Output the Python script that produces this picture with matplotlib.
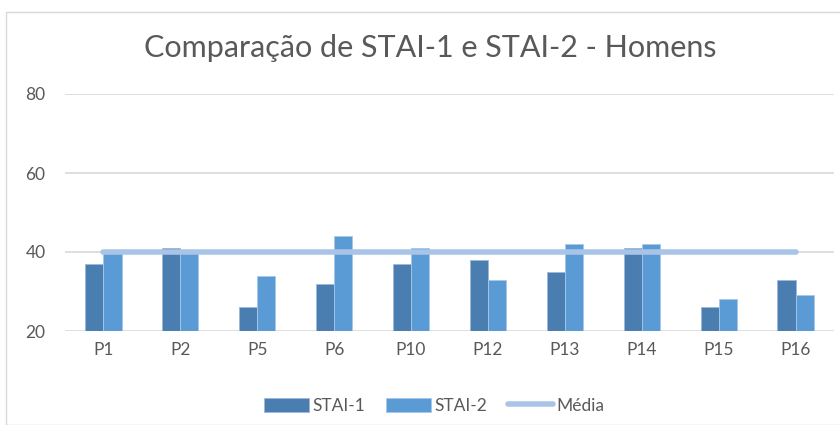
import numpy as np
import matplotlib
matplotlib.use("Agg")
import matplotlib.pyplot as plt
from matplotlib.patches import Rectangle

plt.rcParams['font.family'] = ['Lato', 'DejaVu Sans']

# Dados
participantes = ['P1', 'P2', 'P5', 'P6', 'P10', 'P12', 'P13', 'P14', 'P15', 'P16']
stai1 = [37, 41, 26, 32, 37, 38, 35, 41, 26, 33]
stai2 = [40, 40, 34, 44, 41, 33, 42, 42, 28, 29]
media = [40] * len(participantes)

cor1 = '#4A7EB0'
cor2 = '#5B9BD5'
cor_media = '#A9C4E6'
cinza = '#595959'

fig = plt.figure(figsize=(8.4, 4.25), dpi=100)
ax = fig.add_axes([65 / 840, 1 - 331 / 425, (834 - 65) / 840, (331 - 94) / 425])

# Moldura do gráfico
fig.patches.append(Rectangle((6 / 840, 0), 1, 1 - 12 / 425, transform=fig.transFigure,
                             fill=False, edgecolor='#D9D9D9', lw=1))

x = np.arange(len(participantes))
w = 0.235
b1 = ax.bar(x - w / 2, np.array(stai1) - 20, w, bottom=20, color=cor1, edgecolor='#9DB9D8',
            lw=0.6, label='STAI-1', zorder=2)
b2 = ax.bar(x + w / 2, np.array(stai2) - 20, w, bottom=20, color=cor2, edgecolor='#A8C8EA',
            lw=0.6, label='STAI-2', zorder=2)
l, = ax.plot(x, media, color=cor_media, lw=4, solid_capstyle='round', label='Média', zorder=3)

ax.set_ylim(20, 80)
ax.set_xlim(-0.5, len(participantes) - 0.5)
ax.set_yticks([20, 40, 60, 80])
ax.set_xticks(x)
ax.set_xticklabels(participantes)
ax.grid(axis='y', color='#D9D9D9', lw=1.2, zorder=0)
ax.tick_params(length=0, labelsize=12.5, colors=cinza, pad=8)
ax.tick_params(axis='y', pad=14)
for s in ax.spines.values():
    s.set_visible(False)

fig.text(0.512, 1 - 48 / 425, 'Comparação de STAI-1 e STAI-2 - Homens', ha='center', va='center',
         fontsize=22, color=cinza)

ax.legend([b1, b2, l], ['STAI-1', 'STAI-2', 'Média'], loc='center',
          bbox_to_anchor=(0.48, -0.315), ncol=3, frameon=False, fontsize=12.5,
          labelcolor=cinza, handlelength=2.6, handleheight=0.9, columnspacing=1.2,
          handletextpad=0.2)

fig.savefig('out.png', dpi=100)
